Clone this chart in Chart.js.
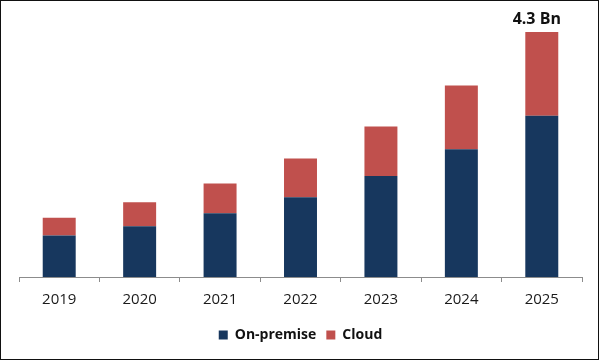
<!DOCTYPE html>
<html>
<head>
<meta charset="utf-8">
<script src="https://cdn.jsdelivr.net/npm/chart.js@4.4.1/dist/chart.umd.min.js"></script>
<style>
  html, body { margin: 0; padding: 0; background: #fff; }
  #wrap { position: relative; width: 600px; height: 361px; }
  #frame { position: absolute; left: 0; top: 0; width: 599px; height: 360px; box-sizing: border-box; border: 1px solid #111; pointer-events: none; }
  canvas { position: absolute; left: 0; top: 0; }
</style>
</head>
<body>
<div id="wrap">
  <canvas id="c" width="600" height="361"></canvas>
  <div id="frame"></div>
</div>
<script>
const years = ['2019', '2020', '2021', '2022', '2023', '2024', '2025'];
const onPremise = [0.73, 0.89, 1.12, 1.40, 1.77, 2.24, 2.83];
const cloud = [0.31, 0.42, 0.52, 0.68, 0.87, 1.12, 1.47];
const topLabel = '4.3 Bn';

const labelPlugin = {
  id: 'topLabel',
  afterDatasetsDraw(chart) {
    const meta = chart.getDatasetMeta(1);
    const bar = meta.data[meta.data.length - 1];
    const ctx = chart.ctx;
    ctx.save();
    ctx.font = 'bold 16px "Open Sans"';
    ctx.fillStyle = '#111';
    ctx.textAlign = 'center';
    ctx.textBaseline = 'alphabetic';
    ctx.fillText(topLabel, bar.x - 5, bar.y - 8);
    ctx.restore();
  }
};

new Chart(document.getElementById('c'), {
  type: 'bar',
  data: {
    labels: years,
    datasets: [
      { label: 'On-premise', data: onPremise, backgroundColor: '#17375E', stack: 's' },
      { label: 'Cloud', data: cloud, backgroundColor: '#C0504D', stack: 's' }
    ]
  },
  options: {
    responsive: false,
    animation: false,
    barPercentage: 0.41,
    categoryPercentage: 1,
    layout: { padding: { left: 19, right: 18, top: 10, bottom: 9 } },
    scales: {
      x: {
        stacked: true,
        grid: { drawOnChartArea: false, drawTicks: true, tickLength: 5, color: '#8c8c8c', offset: true },
        border: { display: true, color: '#8c8c8c' },
        ticks: { padding: 9, color: '#1a1a1a', font: { family: 'Open Sans', size: 15 } }
      },
      y: {
        stacked: true,
        display: false,
        min: 0,
        max: 4.684
      }
    },
    plugins: {
      legend: {
        position: 'bottom',
        labels: {
          boxWidth: 9,
          boxHeight: 9,
          padding: 10,
          color: '#111',
          font: { family: 'Open Sans', size: 14, weight: 'bold' }
        }
      },
      tooltip: { enabled: false }
    }
  },
  plugins: [labelPlugin]
});
</script>
</body>
</html>
